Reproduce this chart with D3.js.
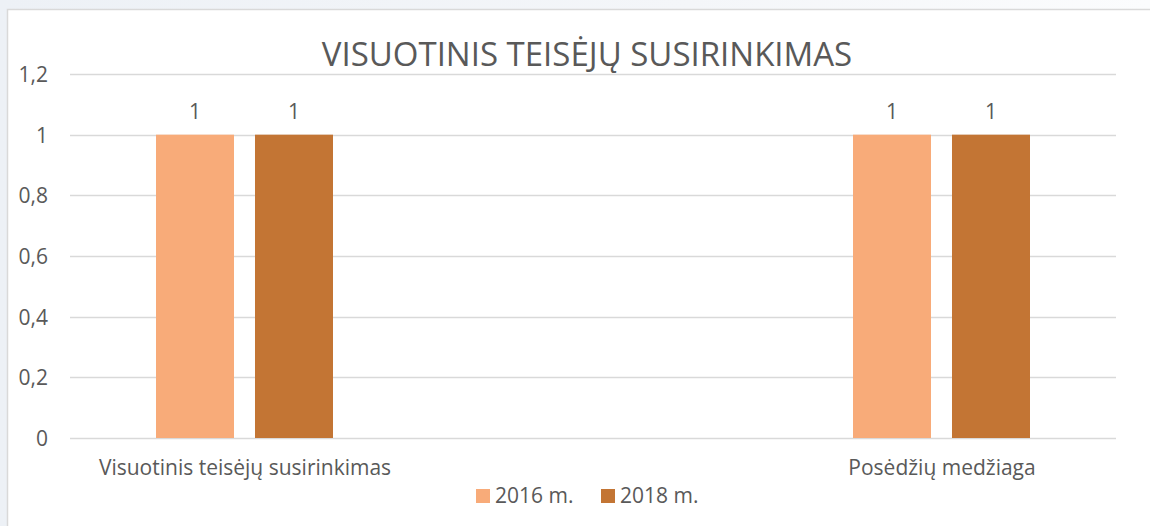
<!DOCTYPE html>
<html><head><meta charset="utf-8">
<script src="https://cdn.jsdelivr.net/npm/d3@7"></script>
<style>
html,body{margin:0;padding:0;}
body{width:1150px;height:526px;overflow:hidden;background:linear-gradient(90deg,#edf1f6 0%,#f4f6f9 60%,#fbfcfd 100%);}
svg{display:block;}
text{font-family:"Open Sans",sans-serif;fill:#595959;}
</style></head>
<body>
<svg id="chart" width="1150" height="526"></svg>
<script>
const title = "VISUOTINIS TEISĖJŲ SUSIRINKIMAS";
const categories = ["Visuotinis teisėjų susirinkimas", "Posėdžių medžiaga"];
const seriesNames = ["2016 m.", "2018 m."];
const values2016 = [1, 1];
const values2018 = [1, 1];
const yTicks = [0, 0.2, 0.4, 0.6, 0.8, 1, 1.2];
const colors = ["#F8AB79", "#C37534"];

const svg = d3.select("#chart");
// chart area box
svg.append("rect").attr("x",7.5).attr("y",9.5).attr("width",1200).attr("height",600)
  .attr("fill","#ffffff").attr("stroke","#d9d9d9").attr("stroke-width",1.5);

const plotLeft = 70, plotRight = 1116, plotTop = 74, plotBottom = 438;
const y = d3.scaleLinear().domain([0, 1.2]).range([plotBottom, plotTop]);
const x0 = d3.scalePoint().domain(categories).range([244.5, 941.5]);
const x1 = d3.scaleBand().domain(seriesNames).range([-88.5, 88.5]).paddingInner(0.212);

const fmt = v => d3.format(".1~f")(v).replace(".", ",");

// gridlines
svg.append("g").selectAll("line").data(yTicks).join("line")
  .attr("x1", plotLeft).attr("x2", plotRight)
  .attr("y1", d => Math.round(y(d)) + 0.5).attr("y2", d => Math.round(y(d)) + 0.5)
  .attr("stroke", "#d9d9d9").attr("stroke-width", 1.5);

// y axis labels
const yAxis = d3.axisLeft(y).tickValues(yTicks).tickFormat(fmt).tickSize(0).tickPadding(0);
const yg = svg.append("g").attr("transform", `translate(48,0)`).call(yAxis);
yg.select(".domain").remove();
yg.selectAll("text").style("font-size","21px").attr("dy","0.35em");

const series = [values2016, values2018];
const groups = svg.append("g").selectAll("g").data(series).join("g")
  .attr("fill", (d,i) => colors[i]);
groups.selectAll("rect").data((d,i) => d.map((v,j) => ({v, cat: categories[j], s: seriesNames[i]}))).join("rect")
  .attr("x", d => x0(d.cat) + x1(d.s))
  .attr("width", x1.bandwidth())
  .attr("y", d => y(d.v))
  .attr("height", d => y(0) - y(d.v));

// data labels
svg.append("g").selectAll("text")
  .data(series.flatMap((arr,i) => arr.map((v,j) => ({v, cat: categories[j], s: seriesNames[i]}))))
  .join("text")
  .attr("x", d => x0(d.cat) + x1(d.s) + x1.bandwidth()/2)
  .attr("y", d => y(d.v) - 23)
  .attr("dy","0.35em")
  .attr("text-anchor","middle").style("font-size","21px")
  .text(d => fmt(d.v));

// x axis labels
const xAxis = d3.axisBottom(x0).tickSize(0).tickPadding(0);
const xg = svg.append("g").attr("transform", `translate(0,${plotBottom})`).call(xAxis);
xg.select(".domain").remove();
xg.selectAll("text").style("font-size","21px")
  .attr("y", 30).attr("dy","0.35em");

// title
svg.append("text").attr("x", 587).attr("y", 54).attr("dy","0.35em")
  .attr("text-anchor","middle").style("font-size","33px").text(title);

// legend
const legend = svg.append("g").attr("transform","translate(476,489)");
const li = legend.selectAll("g").data(seriesNames).join("g")
  .attr("transform",(d,i) => `translate(${i*125},0)`);
li.append("rect").attr("width",14).attr("height",14).attr("fill",(d,i)=>colors[i]);
li.append("text").attr("x",19).attr("y",7).attr("dy","0.35em").style("font-size","21px").text(d=>d);
</script>
</body></html>
